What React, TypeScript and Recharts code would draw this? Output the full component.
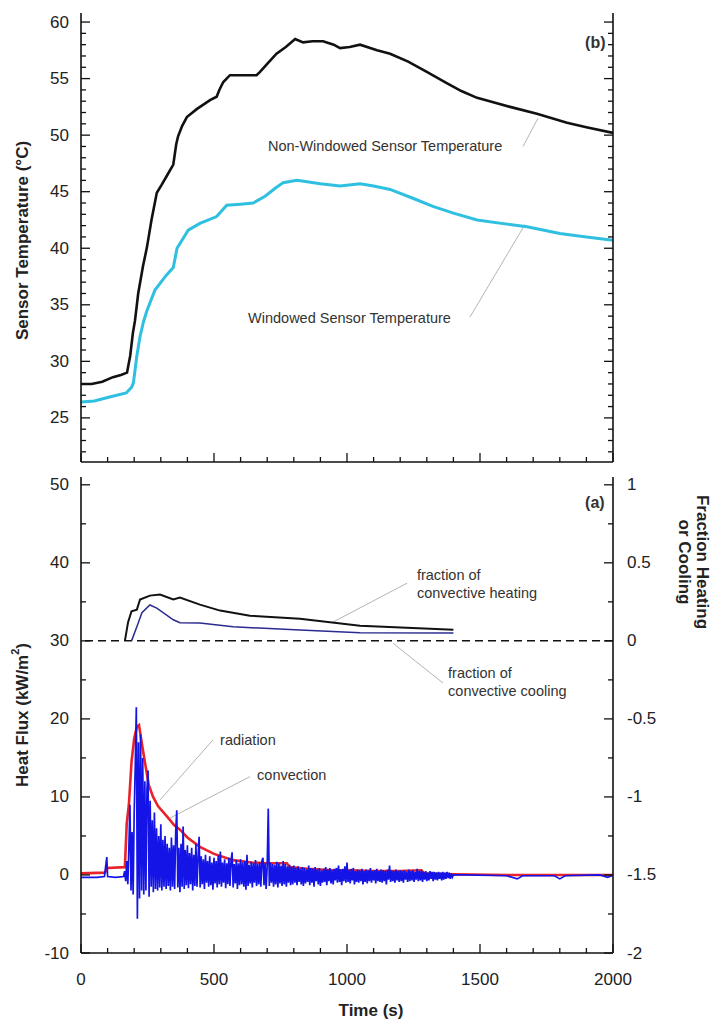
import { LineChart, Line, XAxis, YAxis, ReferenceLine, ReferenceDot, Label } from "recharts";

const FONT = "'Liberation Sans', Arial, sans-serif";
const INK = "#111";
const TXT = "#222";
const NOTE = "#333";
const LEADER = "#b4b4b4";

// shared time axis ticks (minor every 100 s, labelled every 500 s)
const timeTicks = [0, 100, 200, 300, 400, 500, 600, 700, 800, 900, 1000, 1100, 1200, 1300, 1400, 1500, 1600, 1700, 1800, 1900, 2000];

// ---- panel (b): sensor temperatures ----
const tempTicks = [22, 23, 24, 25, 26, 27, 28, 29, 30, 31, 32, 33, 34, 35, 36, 37, 38, 39, 40, 41, 42, 43, 44, 45, 46, 47, 48, 49, 50, 51, 52, 53, 54, 55, 56, 57, 58, 59, 60];

const nonWinTime = [0, 40, 80, 120, 150, 173, 185, 195, 203, 215, 233, 248, 265, 285, 303, 325, 347, 358, 365, 380, 398, 435, 485, 510, 520, 535, 560, 600, 660, 673, 700, 735, 770, 805, 835, 870, 910, 950, 974, 1010, 1049, 1113, 1162, 1230, 1300, 1375, 1430, 1489, 1550, 1613, 1714, 1827, 1900, 2000];
const nonWinTemp = [28.0, 28.0, 28.2, 28.6, 28.8, 29.0, 30.5, 32.5, 33.6, 36.0, 38.4, 40.1, 42.5, 44.9, 45.6, 46.5, 47.4, 49.2, 49.9, 50.8, 51.6, 52.3, 53.1, 53.4, 54.0, 54.7, 55.3, 55.3, 55.3, 55.6, 56.3, 57.2, 57.8, 58.5, 58.2, 58.3, 58.3, 58.0, 57.7, 57.8, 58.0, 57.5, 57.2, 56.5, 55.6, 54.6, 53.9, 53.3, 52.9, 52.5, 51.9, 51.1, 50.7, 50.2];

const winTime = [0, 50, 100, 170, 190, 197, 210, 222, 235, 248, 278, 320, 347, 361, 403, 447, 510, 548, 600, 647, 692, 730, 760, 812, 900, 974, 1049, 1100, 1162, 1250, 1323, 1400, 1489, 1580, 1677, 1800, 1900, 2000];
const winTemp = [26.4, 26.5, 26.8, 27.2, 27.7, 28.1, 30.5, 32.2, 33.5, 34.5, 36.3, 37.6, 38.3, 40.0, 41.6, 42.2, 42.8, 43.8, 43.9, 44.0, 44.6, 45.3, 45.8, 46.0, 45.7, 45.5, 45.7, 45.5, 45.2, 44.4, 43.7, 43.1, 42.5, 42.2, 41.9, 41.3, 41.0, 40.7];

// ---- panel (a): heat flux and fractions ----
const fluxTicks = [-10, -5, 0, 5, 10, 15, 20, 25, 30, 35, 40, 45, 50];
const fracTicks = [-2, -1.75, -1.5, -1.25, -1, -0.75, -0.5, -0.25, 0, 0.25, 0.5, 0.75, 1];

const heatFracTime = [165, 177, 190, 210, 222, 259, 297, 347, 372, 447, 523, 635, 823, 1049, 1400];
const heatFrac = [0, 0.12, 0.19, 0.2, 0.265, 0.29, 0.297, 0.265, 0.277, 0.232, 0.194, 0.161, 0.142, 0.097, 0.071];

const coolFracTime = [190, 210, 229, 259, 285, 347, 372, 447, 572, 823, 1049, 1400];
const coolFrac = [0, 0.09, 0.18, 0.23, 0.21, 0.135, 0.116, 0.115, 0.09, 0.07, 0.052, 0.05];

const radTime = [0, 90, 100, 165, 172, 180, 190, 200, 210, 218, 228, 240, 255, 271, 290, 323, 350, 372, 400, 447, 500, 572, 640, 700, 774, 785, 850, 948, 1011, 1100, 1200, 1280, 1290, 1400, 1600, 2000];
const radFlux = [0.2, 0.3, 0.9, 1.0, 6.6, 9.0, 14.5, 17.5, 19.0, 19.2, 17.0, 14.5, 11.5, 10.0, 8.8, 7.5, 6.4, 5.8, 4.8, 3.6, 2.7, 1.9, 1.6, 1.5, 1.5, 1.0, 0.8, 0.6, 0.6, 0.5, 0.5, 0.6, 0.2, 0.1, 0.0, 0.0];

// convection record: sparse before ignition, 4 s samples 164-1400 s, sparse after
const convPreTime = [0, 60, 88, 97, 100, 130, 160];
const convPre = [-0.3, -0.3, -0.2, 2.3, -0.2, -0.3, -0.2];

const convStart = 164;
const convStep = 4;
const convFast = [
  0.5, -0.8, 1.8, -1.2, 3.5,
  9.0, -2.0, 5.5, -2.5, 8.0,
  14.0, 21.5, -5.6, 17.0, -3.0,
  18.0, -2.0, 15.0, -2.5, 12.0,
  -2.0, 11.0, 13.4, -2.8, 9.5,
  -1.5, 7.0, -2.2, 8.0, -1.8,
  6.0, -2.0, 5.0, -1.6, 6.5,
  -2.0, 4.5, -1.5, 5.0, -1.8,
  4.0, -1.4, 3.5, -2.0, 4.8,
  -1.5, 3.8, -1.8, 5.5, 8.3,
  -1.6, 3.5, -2.2, 4.0, -1.5,
  6.2, -1.8, 3.2, -1.3, 3.8,
  -1.7, 2.8, -1.2, 3.5, -2.0,
  2.6, -1.4, 4.0, -1.5, 2.2,
  4.9, -1.6, 2.4, -1.2, 2.0,
  -1.8, 2.6, -1.0, 1.8, -1.5,
  2.4, -1.3, 1.6, -1.9, 2.2,
  -1.1, 1.8, -1.6, 2.5, -1.2,
  3.0, -1.5, 1.6, -1.0, 2.0,
  -1.7, 1.5, -1.2, 2.2, -1.4,
  1.8, 2.9, -1.6, 1.4, -1.1,
  1.9, -1.8, 1.5, -1.3, 2.0,
  -1.2, 1.6, -1.5, 1.8, -1.9,
  2.6, -1.4, 1.3, -1.1, 1.7,
  -1.6, 1.5, -1.0, 1.9, -1.4,
  1.4, -1.2, 1.6, -1.5, 1.8,
  2.2, -1.3, 1.5, -1.8, 1.2,
  8.5, -1.4, 1.6, -1.0, 1.4,
  -1.5, 1.3, -1.2, 1.7, -1.6,
  1.5, -1.1, 1.2, -1.4, 1.8,
  -1.2, 1.4, -1.5, 1.1, -1.0,
  1.3, -1.3, 1.0, -1.2, 1.2,
  // 804 s onwards
  -1.0, 0.9, -1.3, 1.1, -0.9,
  0.8, -1.2, 1.0, -1.4, 0.9,
  -1.1, 0.7, -0.9, 1.2, -1.3,
  0.9, -1.0, 0.8, -1.5, 1.0,
  -0.8, 0.7, -1.2, 0.9, -1.4,
  0.6, -1.0, 0.8, -0.9, 1.0,
  -1.3, 0.7, -0.8, 0.9, -1.1,
  0.6, -1.2, 0.8, -0.7, 0.9,
  -1.0, 1.2, -0.9, 0.7, -1.3,
  0.8, -0.8, 1.1, -1.0, 1.6,
  -0.9, 0.6, -1.1, 0.8, -0.7,
  0.9, -1.2, 0.5, -0.9, 0.7,
  -1.0, 0.6, -0.8, 0.8, -1.2,
  0.5, -0.9, 0.7, -1.1, 0.6,
  -0.8, 0.9, -1.0, 0.5, -0.7,
  0.6, -1.1, 0.8, -0.8, 0.5,
  -0.9, 0.7, -1.0, 0.6, -0.8,
  0.5, -1.2, 0.7, -0.6, 1.2,
  -0.9, 0.6, -0.8, 0.5, -1.0,
  0.7, -0.7, 0.5, -0.9, 0.6,
  -0.8, 0.5, -1.0, 0.6, -0.6,
  0.4, -0.9, 0.7, -0.8, 0.5,
  -0.7, 0.6, -0.9, 0.4, -0.6,
  0.8, -0.8, 0.5, -0.7, 0.6,
  -0.9, 0.4, -0.6, 0.5, -0.8,
  0.3, -0.7, 0.5, -0.5, 0.4,
  -0.8, 0.4, -0.6, 0.3, -0.7,
  0.4, -0.5, 0.3, -0.7, 0.4,
  -0.6, 0.3, -0.5, 0.4, -0.4,
  0.3, -0.5, 0.2, -0.3, 0.0,
];

const convPostTime = [1440, 1600, 1640, 1660, 1780, 1800, 1820, 1950, 1980, 2000];
const convPost = [0.0, -0.1, -0.5, -0.1, -0.1, -0.5, -0.1, 0.0, -0.3, 0.0];

const pts = (ts: number[], vs: number[]) => ts.map((t, i) => ({ t, v: vs[i] }));
const sampled = (start: number, step: number, vs: number[]) => vs.map((v, i) => ({ t: start + i * step, v }));

const nonWinData = pts(nonWinTime, nonWinTemp);
const winData = pts(winTime, winTemp);
const heatData = pts(heatFracTime, heatFrac);
const coolData = pts(coolFracTime, coolFrac);
const radData = pts(radTime, radFlux);
const convData = [...pts(convPreTime, convPre), ...sampled(convStart, convStep, convFast), ...pts(convPostTime, convPost)];

// tick drawers: ticks point into the plot, labels only on major values
const timeTick = (withLabel: boolean, down: boolean) => (p: any) => {
  const major = p.payload.value % 500 === 0;
  const len = major ? 9 : 5;
  return (
    <g>
      <line x1={p.x} x2={p.x} y1={p.y} y2={down ? p.y + len : p.y - len} stroke={INK} strokeWidth={1.3} />
      {withLabel && major && (
        <text x={p.x} y={p.y + 26} textAnchor="middle" dominantBaseline="central" fontSize={17} fill={TXT} fontFamily={FONT}>
          {p.payload.value}
        </text>
      )}
    </g>
  );
};

const valueTick = (majorStep: number, side: "left" | "right", withLabel: boolean) => (p: any) => {
  const v = p.payload.value;
  const major = Math.abs(v / majorStep - Math.round(v / majorStep)) < 1e-6;
  const len = major ? 9 : 5;
  const dir = side === "left" ? 1 : -1;
  return (
    <g>
      <line x1={p.x} x2={p.x + dir * len} y1={p.y} y2={p.y} stroke={INK} strokeWidth={1.3} />
      {withLabel && major && (
        <text
          x={side === "left" ? p.x - 12 : p.x + 14}
          y={p.y}
          textAnchor={side === "left" ? "end" : "start"}
          dominantBaseline="central"
          fontSize={17}
          fill={TXT}
          fontFamily={FONT}
        >
          {v}
        </text>
      )}
    </g>
  );
};

const note = (lines: string[], size = 14.5, bold = false) => (p: any) => {
  const vb = p.viewBox;
  return (
    <text x={vb.x} y={vb.y} fontSize={size} fill={NOTE} fontFamily={FONT} fontWeight={bold ? 700 : 400} dominantBaseline="central">
      {lines.map((s, i) => (
        <tspan key={i} x={vb.x} dy={i === 0 ? 0 : size * 1.25}>
          {s}
        </tspan>
      ))}
    </text>
  );
};

const axisLine = { stroke: INK, strokeWidth: 1.6 };

function TemperaturePanel() {
  return (
    <LineChart width={723} height={475} margin={{ top: 13, right: 0, bottom: 0, left: 0 }}>
      <XAxis dataKey="t" type="number" domain={[0, 2000]} ticks={timeTicks} interval={0} height={13}
        tickSize={0} tickMargin={0} tickLine={false} axisLine={axisLine} tick={timeTick(false, false)} allowDataOverflow />
      <XAxis xAxisId="top" orientation="top" dataKey="t" type="number" domain={[0, 2000]} ticks={timeTicks} interval={0} height={0}
        tickSize={0} tickMargin={0} tickLine={false} axisLine={axisLine} tick={timeTick(false, true)} allowDataOverflow />
      <YAxis yAxisId="left" type="number" domain={[21.1, 60.8]} ticks={tempTicks} interval={0} width={81}
        tickSize={0} tickMargin={0} tickLine={false} axisLine={axisLine} tick={valueTick(5, "left", true)} allowDataOverflow>
        <Label
          content={(p: any) => {
            const cx = p.viewBox.x + 22;
            const cy = p.viewBox.y + p.viewBox.height / 2 + 3;
            return (
              <text x={cx} y={cy} transform={`rotate(-90 ${cx} ${cy})`} textAnchor="middle" dominantBaseline="central"
                fontSize={17} fontWeight={700} fill={TXT} fontFamily={FONT}>
                Sensor Temperature (°C)
              </text>
            );
          }}
        />
      </YAxis>
      <YAxis yAxisId="right" orientation="right" type="number" domain={[21.1, 60.8]} ticks={tempTicks} interval={0} width={110}
        tickSize={0} tickMargin={0} tickLine={false} axisLine={axisLine} tick={valueTick(5, "right", false)} allowDataOverflow />

      <ReferenceLine yAxisId="left" segment={[{ x: 1662, y: 49.0 }, { x: 1718, y: 51.5 }]} stroke={LEADER} strokeWidth={1} />
      <ReferenceLine yAxisId="left" segment={[{ x: 1462, y: 33.9 }, { x: 1669, y: 42.1 }]} stroke={LEADER} strokeWidth={1} />

      <Line yAxisId="left" data={winData} dataKey="v" type="linear" stroke="#2fbfe0" strokeWidth={3} dot={false} isAnimationActive={false} />
      <Line yAxisId="left" data={nonWinData} dataKey="v" type="linear" stroke={INK} strokeWidth={2.6} dot={false} isAnimationActive={false} />

      <ReferenceDot yAxisId="left" x={703} y={49.0} r={0} fill="none" stroke="none" label={{ content: note(["Non-Windowed Sensor Temperature"]) }} />
      <ReferenceDot yAxisId="left" x={628} y={33.8} r={0} fill="none" stroke="none" label={{ content: note(["Windowed Sensor Temperature"]) }} />
      <ReferenceDot yAxisId="left" x={1895} y={58.2} r={0} fill="none" stroke="none" label={{ content: note(["(b)"], 16, true) }} />
    </LineChart>
  );
}

function FluxPanel() {
  return (
    <LineChart width={723} height={546} margin={{ top: 2, right: 0, bottom: 0, left: 0 }}>
      <XAxis dataKey="t" type="number" domain={[0, 2000]} ticks={timeTicks} interval={0} height={68}
        tickSize={0} tickMargin={0} tickLine={false} axisLine={axisLine} tick={timeTick(true, false)} allowDataOverflow>
        <Label
          content={(p: any) => (
            <text x={p.viewBox.x + p.viewBox.width / 2 + 24} y={p.viewBox.y + 57} textAnchor="middle" dominantBaseline="central"
              fontSize={17} fontWeight={700} fill={TXT} fontFamily={FONT}>
              Time (s)
            </text>
          )}
        />
      </XAxis>
      <XAxis xAxisId="top" orientation="top" dataKey="t" type="number" domain={[0, 2000]} ticks={timeTicks} interval={0} height={0}
        tickSize={0} tickMargin={0} tickLine={false} axisLine={axisLine} tick={timeTick(false, true)} allowDataOverflow />
      <YAxis yAxisId="left" type="number" domain={[-10, 51]} ticks={fluxTicks} interval={0} width={81}
        tickSize={0} tickMargin={0} tickLine={false} axisLine={axisLine} tick={valueTick(10, "left", true)} allowDataOverflow>
        <Label
          content={(p: any) => {
            const cx = p.viewBox.x + 22;
            const cy = p.viewBox.y + p.viewBox.height / 2;
            return (
              <text x={cx} y={cy} transform={`rotate(-90 ${cx} ${cy})`} textAnchor="middle" dominantBaseline="central"
                fontSize={17} fontWeight={700} fill={TXT} fontFamily={FONT}>
                Heat Flux (kW/m<tspan dy={-7} fontSize={11}>2</tspan><tspan dy={7}>)</tspan>
              </text>
            );
          }}
        />
      </YAxis>
      <YAxis yAxisId="right" orientation="right" type="number" domain={[-2, 1.05]} ticks={fracTicks} interval={0} width={110}
        tickSize={0} tickMargin={0} tickLine={false} axisLine={axisLine} tick={valueTick(0.5, "right", true)} allowDataOverflow>
        <Label
          content={(p: any) => {
            const cx = p.viewBox.x + 90;
            const cy = p.viewBox.y + 85;
            return (
              <text x={cx} y={cy} transform={`rotate(90 ${cx} ${cy})`} textAnchor="middle" dominantBaseline="central"
                fontSize={17} fontWeight={700} fill={TXT} fontFamily={FONT}>
                <tspan x={cx}>Fraction Heating</tspan>
                <tspan x={cx} dy={18}>or Cooling</tspan>
              </text>
            );
          }}
        />
      </YAxis>

      <ReferenceLine yAxisId="right" y={0} stroke={INK} strokeWidth={1.5} strokeDasharray="8 5" />

      <ReferenceLine yAxisId="left" segment={[{ x: 947, y: 32.4 }, { x: 1226, y: 37.4 }]} stroke={LEADER} strokeWidth={1} />
      <ReferenceLine yAxisId="left" segment={[{ x: 1173, y: 29.7 }, { x: 1361, y: 24.6 }]} stroke={LEADER} strokeWidth={1} />
      <ReferenceLine yAxisId="left" segment={[{ x: 496, y: 17.3 }, { x: 297, y: 9.6 }]} stroke={LEADER} strokeWidth={1} />
      <ReferenceLine yAxisId="left" segment={[{ x: 635, y: 12.6 }, { x: 335, y: 7.3 }]} stroke={LEADER} strokeWidth={1} />

      <Line yAxisId="right" data={heatData} dataKey="v" type="linear" stroke={INK} strokeWidth={2} dot={false} isAnimationActive={false} />
      <Line yAxisId="right" data={coolData} dataKey="v" type="linear" stroke="#2a2a90" strokeWidth={1.5} dot={false} isAnimationActive={false} />
      <Line yAxisId="left" data={radData} dataKey="v" type="linear" stroke="#e8232a" strokeWidth={2.6} dot={false} isAnimationActive={false} />
      <Line yAxisId="left" data={convData} dataKey="v" type="linear" stroke="#1414e6" strokeWidth={1.7} dot={false} isAnimationActive={false} />

      <ReferenceDot yAxisId="left" x={1263} y={38.5} r={0} fill="none" stroke="none" label={{ content: note(["fraction of", "convective heating"]) }} />
      <ReferenceDot yAxisId="left" x={1380} y={25.9} r={0} fill="none" stroke="none" label={{ content: note(["fraction of", "convective cooling"]) }} />
      <ReferenceDot yAxisId="left" x={523} y={17.3} r={0} fill="none" stroke="none" label={{ content: note(["radiation"]) }} />
      <ReferenceDot yAxisId="left" x={662} y={12.8} r={0} fill="none" stroke="none" label={{ content: note(["convection"]) }} />
      <ReferenceDot yAxisId="left" x={1895} y={47.8} r={0} fill="none" stroke="none" label={{ content: note(["(a)"], 16, true) }} />
    </LineChart>
  );
}

export default function App() {
  return (
    <div style={{ position: "absolute", left: 0, top: 0, width: 723, height: 1021, background: "#fff" }}>
      <div style={{ position: "absolute", left: 0, top: 0 }}>
        <TemperaturePanel />
      </div>
      <div style={{ position: "absolute", left: 0, top: 475 }}>
        <FluxPanel />
      </div>
    </div>
  );
}
